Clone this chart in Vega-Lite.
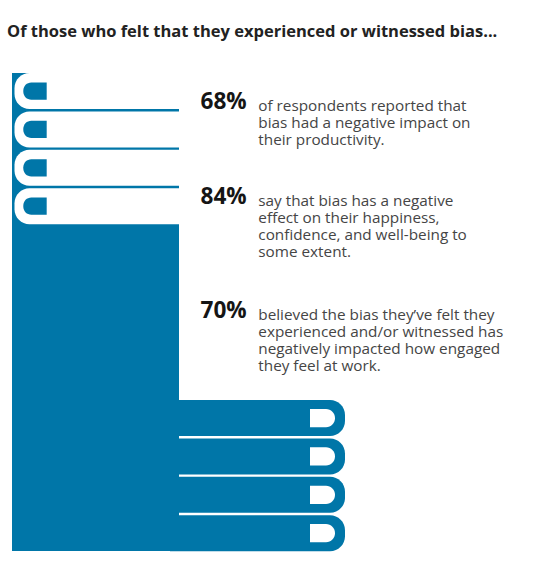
{
  "$schema": "https://vega.github.io/schema/vega-lite/v6.json",
  "description": "Effects of bias reported by respondents who felt they experienced or witnessed it",
  "width": 538,
  "height": 526,
  "autosize": {"type": "none"},
  "padding": {"top": 45, "left": 0, "right": 0, "bottom": 0},
  "background": "white",
  "title": {
    "text": "Of those who felt that they experienced or witnessed bias...",
    "anchor": "start",
    "frame": "group",
    "offset": 5,
    "dx": 7,
    "font": "Open Sans",
    "fontSize": 16.5,
    "fontWeight": "bold",
    "color": "#222222"
  },
  "config": {"view": {"stroke": null}},
  "datasets": {
    "tabs": [
      {"side": "top", "tab": 1},
      {"side": "top", "tab": 2},
      {"side": "top", "tab": 3},
      {"side": "top", "tab": 4},
      {"side": "bottom", "tab": 1},
      {"side": "bottom", "tab": 2},
      {"side": "bottom", "tab": 3},
      {"side": "bottom", "tab": 4}
    ],
    "stats": [
      {"pct": "68%", "value": 68, "lines": ["of respondents reported that", "bias had a negative impact on", "their productivity."]},
      {"pct": "84%", "value": 84, "lines": ["say that bias has a negative", "effect on their happiness,", "confidence, and well-being to", "some extent."]},
      {"pct": "70%", "value": 70, "lines": ["believed the bias they’ve felt they", "experienced and/or witnessed has", "negatively impacted how engaged", "they feel at work."]}
    ]
  },
  "encoding": {
    "x": {"type": "quantitative", "scale": {"domain": [0, 538], "nice": false, "zero": false}, "axis": null}
  },
  "layer": [
    {
      "data": {"values": [{"part": "body"}]},
      "mark": {"type": "rect", "color": "#0076a8"},
      "encoding": {
        "x": {"datum": 12},
        "x2": {"datum": 179},
        "y": {"datum": 73, "type": "quantitative", "scale": {"domain": [45, 571], "reverse": true, "nice": false, "zero": false}, "axis": null},
        "y2": {"datum": 551}
      }
    },
    {
      "data": {"name": "tabs"},
      "transform": [{"filter": "datum.side === 'top'"}],
      "mark": {"type": "bar", "color": "white", "cornerRadiusTopLeft": 15, "cornerRadiusBottomLeft": 15},
      "encoding": {
        "x": {"datum": 14.5},
        "x2": {"datum": 190},
        "y": {"field": "tab", "type": "ordinal", "scale": {"type": "band", "range": [28, 179.2], "paddingInner": 0.06, "paddingOuter": 0}, "axis": null}
      }
    },
    {
      "data": {"name": "tabs"},
      "transform": [{"filter": "datum.side === 'top'"}],
      "mark": {"type": "bar", "color": "#0076a8", "height": 17.3, "cornerRadiusTopLeft": 8, "cornerRadiusBottomLeft": 8},
      "encoding": {
        "x": {"datum": 23.3},
        "x2": {"datum": 46.7},
        "y": {"field": "tab", "type": "ordinal", "scale": {"type": "band", "range": [28, 179.2], "paddingInner": 0.06, "paddingOuter": 0}, "axis": null}
      }
    },
    {
      "data": {"name": "tabs"},
      "transform": [{"filter": "datum.side === 'bottom'"}],
      "mark": {"type": "bar", "color": "#0076a8", "cornerRadiusTopRight": 15, "cornerRadiusBottomRight": 15},
      "encoding": {
        "x": {"datum": 170},
        "x2": {"datum": 345},
        "y": {"field": "tab", "type": "ordinal", "scale": {"type": "band", "range": [355, 506.2], "paddingInner": 0.06, "paddingOuter": 0}, "axis": null}
      }
    },
    {
      "data": {"name": "tabs"},
      "transform": [{"filter": "datum.side === 'bottom'"}],
      "mark": {"type": "bar", "color": "white", "height": 18.3, "cornerRadiusTopRight": 9, "cornerRadiusBottomRight": 9},
      "encoding": {
        "x": {"datum": 310},
        "x2": {"datum": 335},
        "y": {"field": "tab", "type": "ordinal", "scale": {"type": "band", "range": [355, 506.2], "paddingInner": 0.06, "paddingOuter": 0}, "axis": null}
      }
    },
    {
      "data": {"name": "stats"},
      "mark": {"type": "text", "align": "left", "baseline": "alphabetic", "font": "Open Sans", "fontSize": 22.6, "fontWeight": "bold", "color": "#151515"},
      "encoding": {
        "x": {"datum": 200.5},
        "y": {"field": "pct", "type": "ordinal", "scale": {"type": "point", "domain": ["68%", "gap1", "gap2", "gap3", "gap4", "84%", "gap5", "gap6", "gap7", "gap8", "gap9", "70%"], "range": [64, 273], "padding": 0}, "axis": null},
        "text": {"field": "pct"}
      }
    },
    {
      "data": {"name": "stats"},
      "mark": {"type": "text", "align": "left", "baseline": "alphabetic", "dy": 1.5, "font": "Open Sans", "fontSize": 15.3, "lineHeight": 17.2, "color": "#454545"},
      "encoding": {
        "x": {"datum": 258.3},
        "y": {"field": "pct", "type": "ordinal", "scale": {"type": "point", "domain": ["68%", "gap1", "gap2", "gap3", "gap4", "84%", "gap5", "gap6", "gap7", "gap8", "gap9", "70%"], "range": [64, 273], "padding": 0}, "axis": null},
        "text": {"field": "lines"}
      }
    }
  ],
  "resolve": {"scale": {"y": "independent"}}
}
